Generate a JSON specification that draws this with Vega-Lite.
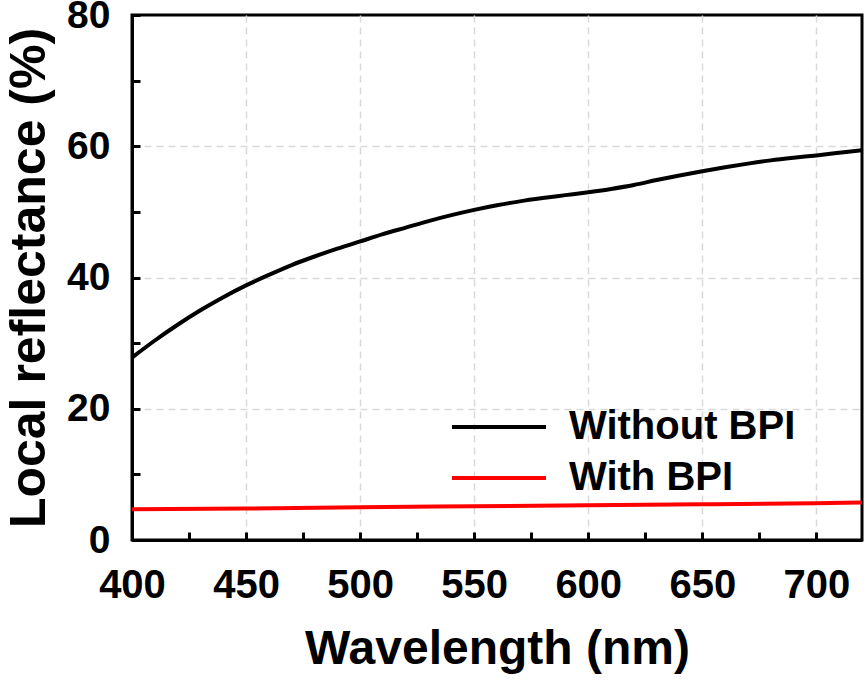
{
  "$schema": "https://vega.github.io/schema/vega-lite/v6.json",
  "width": 730,
  "height": 525,
  "autosize": {"type": "none"},
  "padding": {"left": 132, "top": 15, "right": 3, "bottom": 140},
  "background": "white",
  "config": {
    "view": {"stroke": "black", "strokeWidth": 3},
    "font": "Liberation Sans"
  },
  "data": {
    "values": [
      {"wl": 400, "r": 27.8, "s": "Without BPI"},
      {"wl": 410, "r": 30.4, "s": "Without BPI"},
      {"wl": 420, "r": 32.8, "s": "Without BPI"},
      {"wl": 430, "r": 35.0, "s": "Without BPI"},
      {"wl": 440, "r": 37.0, "s": "Without BPI"},
      {"wl": 450, "r": 38.8, "s": "Without BPI"},
      {"wl": 460, "r": 40.4, "s": "Without BPI"},
      {"wl": 470, "r": 41.9, "s": "Without BPI"},
      {"wl": 480, "r": 43.2, "s": "Without BPI"},
      {"wl": 490, "r": 44.4, "s": "Without BPI"},
      {"wl": 500, "r": 45.5, "s": "Without BPI"},
      {"wl": 510, "r": 46.6, "s": "Without BPI"},
      {"wl": 520, "r": 47.6, "s": "Without BPI"},
      {"wl": 530, "r": 48.6, "s": "Without BPI"},
      {"wl": 540, "r": 49.5, "s": "Without BPI"},
      {"wl": 550, "r": 50.3, "s": "Without BPI"},
      {"wl": 560, "r": 51.0, "s": "Without BPI"},
      {"wl": 570, "r": 51.6, "s": "Without BPI"},
      {"wl": 580, "r": 52.1, "s": "Without BPI"},
      {"wl": 590, "r": 52.55, "s": "Without BPI"},
      {"wl": 600, "r": 53.0, "s": "Without BPI"},
      {"wl": 610, "r": 53.5, "s": "Without BPI"},
      {"wl": 620, "r": 54.1, "s": "Without BPI"},
      {"wl": 630, "r": 54.85, "s": "Without BPI"},
      {"wl": 640, "r": 55.55, "s": "Without BPI"},
      {"wl": 650, "r": 56.2, "s": "Without BPI"},
      {"wl": 660, "r": 56.8, "s": "Without BPI"},
      {"wl": 670, "r": 57.35, "s": "Without BPI"},
      {"wl": 680, "r": 57.85, "s": "Without BPI"},
      {"wl": 690, "r": 58.25, "s": "Without BPI"},
      {"wl": 700, "r": 58.6, "s": "Without BPI"},
      {"wl": 710, "r": 59.0, "s": "Without BPI"},
      {"wl": 720, "r": 59.4, "s": "Without BPI"},
      {"wl": 400, "r": 4.7, "s": "With BPI"},
      {"wl": 450, "r": 4.8, "s": "With BPI"},
      {"wl": 500, "r": 5.0, "s": "With BPI"},
      {"wl": 550, "r": 5.15, "s": "With BPI"},
      {"wl": 600, "r": 5.3, "s": "With BPI"},
      {"wl": 650, "r": 5.45, "s": "With BPI"},
      {"wl": 700, "r": 5.6, "s": "With BPI"},
      {"wl": 720, "r": 5.7, "s": "With BPI"}
    ]
  },
  "mark": {"type": "line", "strokeWidth": 4, "clip": true, "interpolate": "monotone"},
  "encoding": {
    "x": {
      "field": "wl",
      "type": "quantitative",
      "scale": {"domain": [400, 720], "nice": false, "zero": false},
      "axis": {
        "title": "Wavelength (nm)",
        "values": [400, 425, 450, 475, 500, 525, 550, 575, 600, 625, 650, 675, 700],
        "labelExpr": "datum.value % 50 === 0 ? datum.label : ''",
        "labelFlush": false,
        "labelOverlap": false,
        "labelFont": "Liberation Sans",
        "labelFontWeight": "bold",
        "labelFontSize": 40,
        "labelColor": "black",
        "labelPadding": 33,
        "tickSize": -8,
        "tickWidth": 3,
        "tickColor": "black",
        "domainColor": "black",
        "domainWidth": 3,
        "grid": true,
        "gridColor": "#d9d9d9",
        "gridWidth": 1.5,
        "gridDash": [7, 5],
        "gridOpacity": {"condition": {"test": "datum.value % 50 === 0 && datum.value > 400", "value": 1}, "value": 0},
        "titleFont": "Liberation Sans",
        "titleFontWeight": "bold",
        "titleFontSize": 48,
        "titleColor": "black",
        "titlePadding": 20
      }
    },
    "y": {
      "field": "r",
      "type": "quantitative",
      "scale": {"domain": [0, 80], "nice": false},
      "axis": {
        "title": "Local reflectance (%)",
        "values": [0, 10, 20, 30, 40, 50, 60, 70, 80],
        "labelExpr": "datum.value % 20 === 0 ? datum.label : ''",
        "labelOverlap": false,
        "labelFlush": false,
        "labelFont": "Liberation Sans",
        "labelFontWeight": "bold",
        "labelFontSize": 39,
        "labelColor": "black",
        "labelPadding": 30,
        "tickSize": -8,
        "tickWidth": 3,
        "tickColor": "black",
        "domainColor": "black",
        "domainWidth": 3,
        "grid": true,
        "gridColor": "#d9d9d9",
        "gridWidth": 1.5,
        "gridDash": [7, 5],
        "gridOpacity": {"condition": {"test": "datum.value % 20 === 0 && datum.value > 0 && datum.value < 80", "value": 1}, "value": 0},
        "titleFont": "Liberation Sans",
        "titleFontWeight": "bold",
        "titleFontSize": 50,
        "titleColor": "black",
        "titlePadding": 12
      }
    },
    "color": {
      "field": "s",
      "type": "nominal",
      "scale": {"domain": ["Without BPI", "With BPI"], "range": ["black", "#ff0000"]},
      "legend": {
        "title": null,
        "orient": "none",
        "legendX": 318,
        "legendY": 388,
        "padding": 0,
        "symbolType": "stroke",
        "symbolSize": 8836,
        "symbolStrokeWidth": 4,
        "clipHeight": 48,
        "rowPadding": 3,
        "labelOffset": 21,
        "labelFont": "Liberation Sans",
        "labelFontWeight": "bold",
        "labelFontSize": 40,
        "labelColor": "black",
        "labelLimit": 400
      }
    }
  }
}
